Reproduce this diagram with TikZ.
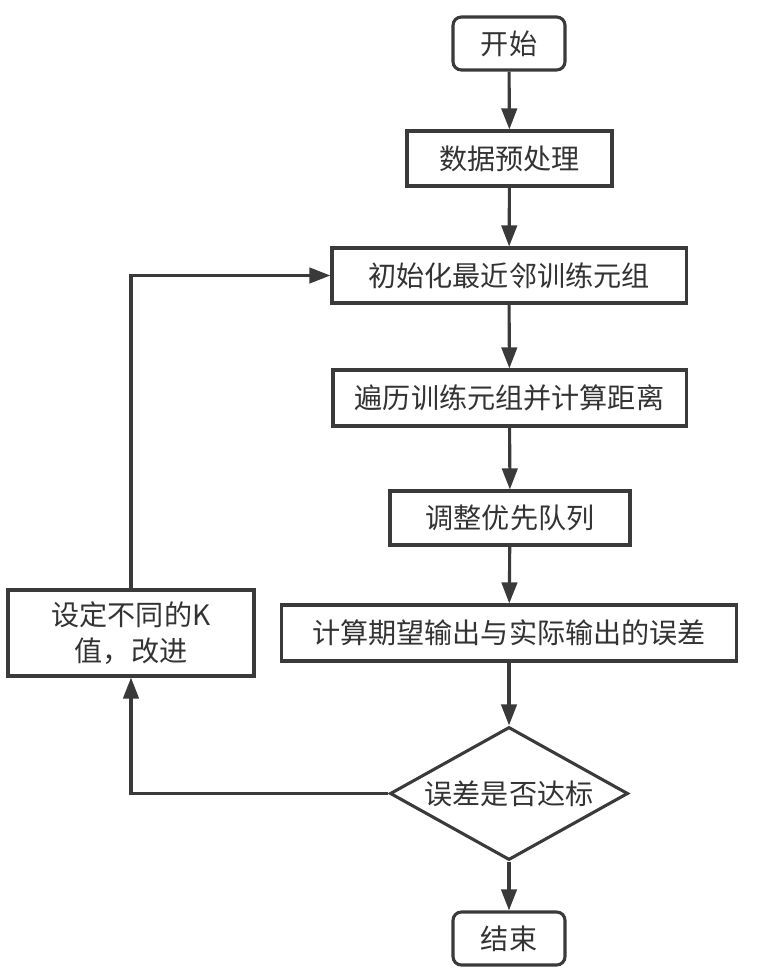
\documentclass[tikz,border=0pt]{standalone}
\usepackage{fontspec}
\setmainfont{Noto Sans CJK SC}
\usetikzlibrary{arrows.meta,shapes.geometric}
\definecolor{linegray}{HTML}{3A3A3A}
\definecolor{textgray}{HTML}{333333}
\begin{document}
\begin{tikzpicture}[x=0.025cm,y=-0.025cm,
  box/.style={draw=linegray,line width=2.2pt,fill=white,text=textgray,
    font=\fontsize{20}{26}\selectfont,inner sep=0pt,align=center},
  term/.style={box,rounded corners=6pt},
  decision/.style={box,diamond,aspect=1.79},
  flow/.style={draw=linegray,line width=2.2pt,-{Triangle[length=15pt,width=11pt]}}]

\useasboundingbox (0,0) rectangle (758,977);

\node[term,minimum width=2.8cm,minimum height=1.325cm] (start) at (509,43.5) {开始};
\node[box,minimum width=5.125cm,minimum height=1.375cm] (prep) at (509.5,158.5) {数据预处理};
\node[box,minimum width=8.85cm,minimum height=1.375cm] (init) at (509,275.5) {初始化最近邻训练元组};
\node[box,minimum width=8.825cm,minimum height=1.4cm] (dist) at (509.5,398) {遍历训练元组并计算距离};
\node[box,minimum width=6cm,minimum height=1.35cm] (queue) at (510,518) {调整优先队列};
\node[box,minimum width=11.35cm,minimum height=1.4cm] (err) at (509,633) {计算期望输出与实际输出的误差};
\node[decision,minimum width=5.95cm,minimum height=3.325cm] (check) at (509,793.5) {误差是否达标};
\node[term,minimum width=2.8cm,minimum height=1.325cm] (stop) at (509,938.5) {结束};
\node[box,minimum width=6.15cm,minimum height=2.15cm] (setk) at (131,633) {设定不同的K\\值，改进};

% main line
\draw[flow] (start) -- (prep);
\draw[flow] (prep) -- (init);
\draw[flow] (init) -- (dist);
\draw[flow] (dist) -- (queue);
\draw[flow] (queue) -- (err);
\draw[flow] (err) -- (check);
\draw[flow] (check) -- (stop);

% back loop
\draw[flow] (check.west) -| (setk.south);
\draw[flow] (setk.north) |- (init.west);
\end{tikzpicture}
\end{document}
